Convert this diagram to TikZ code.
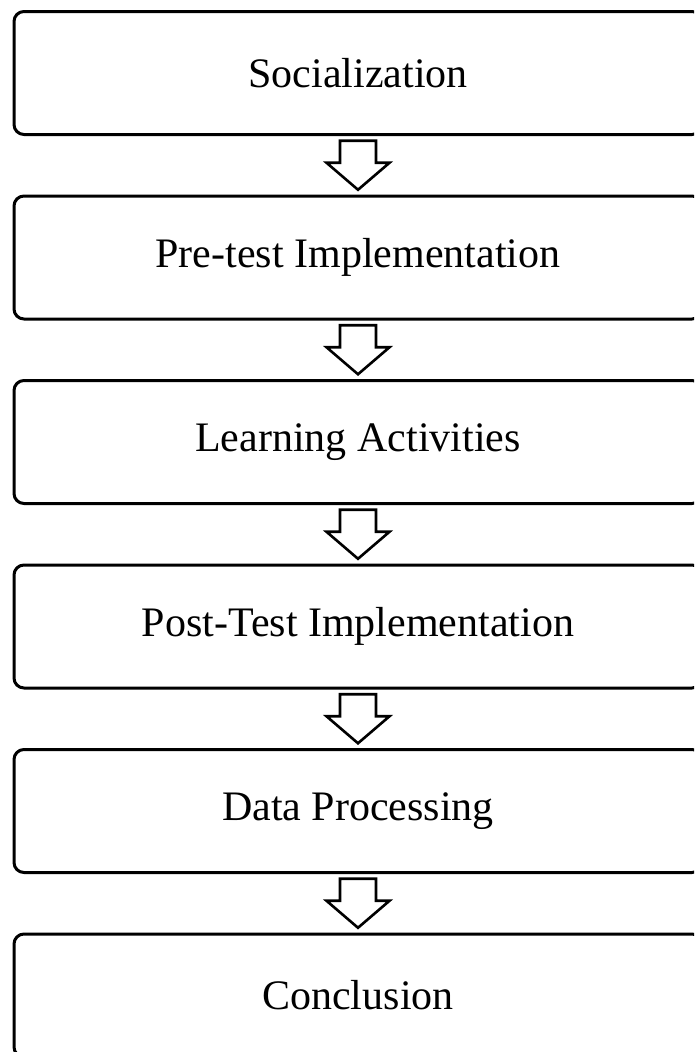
\documentclass[tikz,border=0pt]{standalone}
\usepackage{fontspec}
\setmainfont{Liberation Serif}
\usetikzlibrary{positioning,calc}

\begin{document}
\begin{tikzpicture}[x=1pt,y=-1pt,
    stage/.style={draw, line width=3pt, rounded corners=10pt,
      minimum width=688pt, minimum height=123pt, inner sep=0pt, outer sep=0pt,
      font=\fontsize{42}{50}\selectfont},
    hollow/.style={draw, line width=2.6pt, fill=white, line join=miter}]
  \clip (0,0) rectangle (694,1052);
  \node[stage] (soc) at (358,73) {Socialization};
  \node[stage, below=61.5pt of soc] (pre) {Pre-test Implementation};
  \node[stage, below=61.5pt of pre] (act) {Learning Activities};
  \node[stage, below=61.5pt of act] (post) {Post-Test Implementation};
  \node[stage, below=61.5pt of post] (data) {Data Processing};
  \node[stage, below=61.5pt of data] (conc) {Conclusion};
  % hollow arrows between the stages
  \foreach \a/\b in {soc/pre, pre/act, act/post, post/data, data/conc} {
    \coordinate (m) at ($(\a.south)!0.5!(\b.north)$);
    \draw[hollow] ($(m)+(-18,-24.5)$) -- ($(m)+(18,-24.5)$) -- ($(m)+(18,-2.5)$)
      -- ($(m)+(31.5,-2.5)$) -- ($(m)+(0,24.5)$) -- ($(m)+(-31.5,-2.5)$)
      -- ($(m)+(-18,-2.5)$) -- cycle;
  }
\end{tikzpicture}
\end{document}
